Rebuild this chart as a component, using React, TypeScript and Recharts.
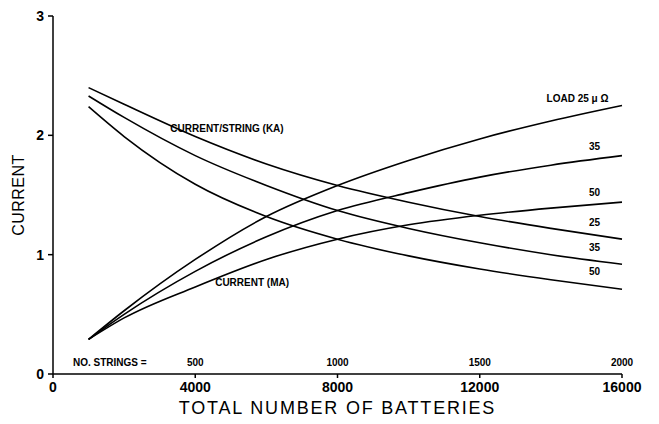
import { Line, LineChart, ReferenceDot, XAxis, YAxis, Label } from 'recharts'

const BATTERIES = [1000, 2000, 4000, 6000, 8000, 10000, 12000, 14000, 16000]

// current per string (kA), one curve per load resistance
const STRING_25 = [2.4, 2.26, 1.99, 1.76, 1.58, 1.44, 1.32, 1.22, 1.13]
const STRING_35 = [2.33, 2.15, 1.83, 1.58, 1.37, 1.22, 1.1, 1.0, 0.92]
const STRING_50 = [2.24, 1.99, 1.59, 1.32, 1.13, 0.99, 0.88, 0.79, 0.71]

// total current (MA)
const TOTAL_25 = [0.29, 0.53, 0.96, 1.32, 1.58, 1.79, 1.97, 2.12, 2.25]
const TOTAL_35 = [0.29, 0.5, 0.86, 1.15, 1.37, 1.52, 1.65, 1.75, 1.83]
const TOTAL_50 = [0.29, 0.47, 0.73, 0.96, 1.13, 1.25, 1.33, 1.39, 1.44]

const X_TICKS = [0, 4000, 8000, 12000, 16000]
const Y_TICKS = [0, 1, 2, 3]

// 8 batteries per string
const STRING_COUNTS = [500, 1000, 1500, 2000]
const STRING_AT = [4000, 8000, 12000, 16000]

const SERIES = ['s25', 's35', 's50', 't25', 't35', 't50']

const data = BATTERIES.map((x, i) => ({
  x,
  s25: STRING_25[i],
  s35: STRING_35[i],
  s50: STRING_50[i],
  t25: TOTAL_25[i],
  t35: TOTAL_35[i],
  t50: TOTAL_50[i],
}))

// text notes anchored in data space: [x, y, text, anchor]
const NOTES: [number, number, string, 'start' | 'middle' | 'end'][] = [
  [3300, 2.06, 'CURRENT/STRING (KA)', 'start'],
  [4560, 0.77, 'CURRENT (MA)', 'start'],
  [13880, 2.31, 'LOAD 25 \u03bc \u03a9', 'start'],
  [15070, 1.91, '35', 'start'],
  [15070, 1.52, '50', 'start'],
  [15070, 1.27, '25', 'start'],
  [15070, 1.06, '35', 'start'],
  [15070, 0.86, '50', 'start'],
  [560, 0.1, 'NO. STRINGS =', 'start'],
  ...STRING_COUNTS.map(
    (n, i) => [STRING_AT[i], 0.1, String(n), 'middle'] as [number, number, string, 'middle']
  ),
]

const FONT = '"Liberation Sans", Arial, sans-serif'

function noteShape(text: string, anchor: string) {
  return (props: any) => (
    <text
      x={props.cx}
      y={props.cy}
      dy="0.35em"
      textAnchor={anchor}
      fontFamily={FONT}
      fontSize={10}
      fontWeight="bold"
      fill="#000"
    >
      {text}
    </text>
  )
}

export default function App() {
  return (
    <LineChart
      width={643}
      height={414}
      data={data}
      margin={{ top: 8, right: 29, bottom: 18, left: 5 }}
    >
      <XAxis
        dataKey="x"
        type="number"
        domain={[0, 16000]}
        ticks={X_TICKS}
        interval={0}
        height={30}
        tickSize={4}
        tickMargin={4}
        stroke="#000"
        strokeWidth={1.5}
        tick={{ fill: '#000', fontSize: 14, fontWeight: 'bold', fontFamily: FONT }}
      >
        <Label
          value="TOTAL NUMBER OF BATTERIES"
          position="insideBottom"
          offset={-10}
          fill="#000"
          fontSize={18}
          fontFamily={FONT}
          letterSpacing={1.8}
        />
      </XAxis>
      <YAxis
        type="number"
        domain={[0, 3]}
        ticks={Y_TICKS}
        interval={0}
        width={40}
        tickSize={5}
        tickMargin={4}
        stroke="#000"
        strokeWidth={1.5}
        tick={{ fill: '#000', fontSize: 14, fontWeight: 'bold', fontFamily: FONT }}
      >
        <Label
          value="CURRENT"
          angle={-90}
          position="insideLeft"
          offset={5}
          fill="#000"
          fontSize={16}
          fontFamily={FONT}
          letterSpacing={0.5}
          style={{ textAnchor: 'middle' }}
        />
      </YAxis>
      {SERIES.map((key) => (
        <Line
          key={key}
          dataKey={key}
          type="monotone"
          stroke="#000"
          strokeWidth={1.6}
          dot={false}
          isAnimationActive={false}
        />
      ))}
      {NOTES.map(([x, y, text, anchor], i) => (
        <ReferenceDot key={i} x={x} y={y} r={0} shape={noteShape(text, anchor)} />
      ))}
    </LineChart>
  )
}
